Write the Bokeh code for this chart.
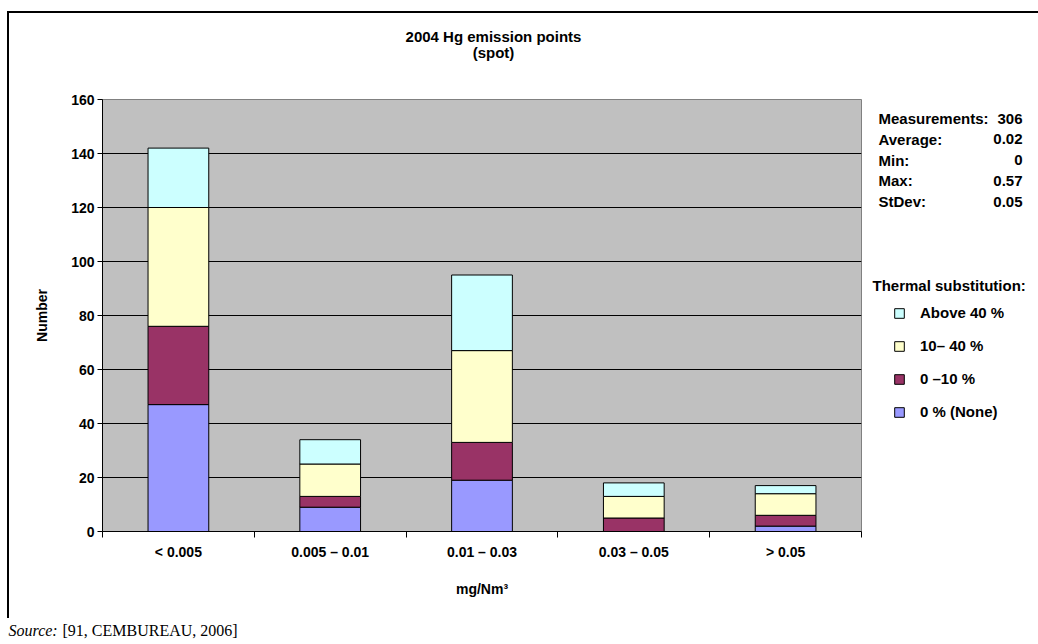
from bokeh.plotting import figure
from bokeh.layouts import row, column
from bokeh.models import (Range1d, LinearAxis, FixedTicker,
                          Label, Legend, LegendItem, ColumnDataSource, Grid)
from bokeh.embed import file_html
from bokeh.resources import INLINE

# ---------------- data ----------------
categories = ["< 0.005", "0.005 – 0.01", "0.01 – 0.03", "0.03 – 0.05", "> 0.05"]
none_0 = [47, 9, 19, 0, 2]          # 0 % (None)
upto_10 = [29, 4, 14, 5, 4]         # 0 – 10 %
from_10_to_40 = [44, 12, 34, 8, 8]  # 10 – 40 %
above_40 = [22, 9, 28, 5, 3]        # Above 40 %
series_keys = ["none_0", "upto_10", "from_10_to_40", "above_40"]
series_names = ["0 % (None)", "0 –10 %", "10– 40 %", "Above 40 %"]
series_colors = ["#9999FF", "#993366", "#FFFFCC", "#CCFFFF"]
y_ticks = [0, 20, 40, 60, 80, 100, 120, 140, 160]
stat_names = ["Measurements:", "Average:", "Min:", "Max:", "StDev:"]
stat_values = ["306", "0.02", "0", "0.57", "0.05"]
title_lines = ["2004 Hg emission points", "(spot)"]

SANS = "Liberation Sans"
SERIF = "Liberation Serif"

# ---------------- layout (page pixels) ----------------
W, H = 1038, 644
LEFT_W = 862            # width of the left column (title / chart / source)
SIDE_W = W - LEFT_W     # stats + legend column
TITLE_H = 89
MAIN_H = 512
SRC_H = H - TITLE_H - MAIN_H
ML, MT, MB = 102, 10, 70
MR = LEFT_W - ML - 759


def no_align(f):
    try:
        f.frame_align = False
    except Exception:
        pass


def text_canvas(w, h):
    """A blank figure whose frame is its whole canvas; data units = local pixels."""
    f = figure(width=w, height=h, x_range=Range1d(0, w), y_range=Range1d(h, 0),
               x_axis_location=None, y_axis_location=None, toolbar_location=None,
               output_backend="svg", min_border=0, min_border_left=0, min_border_right=0,
               min_border_top=0, min_border_bottom=0)
    f.center = []
    f.outline_line_color = None
    f.background_fill_color = None
    f.border_fill_color = None
    no_align(f)
    return f


def add_text(f, x, y, text, size="15px", align="left", font=SANS, style="bold"):
    f.add_layout(Label(x=x, y=y, text=text, text_font=font, text_font_style=style,
                       text_font_size=size, text_color="black", text_align=align,
                       text_baseline="middle"))


# ---------------- main chart ----------------
n = len(categories)
centers = [i + 0.5 for i in range(n)]      # category slot centres
bounds = list(range(n + 1))                # category slot boundaries

p = figure(width=LEFT_W, height=MAIN_H, x_range=Range1d(0, n), y_range=Range1d(0, 160),
           x_axis_location=None, y_axis_location=None, toolbar_location=None,
           output_backend="svg", min_border_left=ML, min_border_right=MR,
           min_border_top=MT, min_border_bottom=MB)
p.center = []
p.background_fill_color = "#C0C0C0"
p.border_fill_color = None
p.outline_line_color = "#808080"
p.outline_line_width = 1
no_align(p)

p.add_layout(Grid(dimension=1, ticker=FixedTicker(ticks=[t for t in y_ticks if t < 160]),
                  grid_line_color="black", grid_line_width=1))

source = ColumnDataSource(dict(x=centers, cat=categories, none_0=none_0, upto_10=upto_10,
                               from_10_to_40=from_10_to_40, above_40=above_40))
renderers = p.vbar_stack(series_keys, x="x", width=0.4, fill_color=series_colors,
                         line_color="black", line_width=1, source=source)

yaxis = LinearAxis(ticker=FixedTicker(ticks=y_ticks), axis_line_color="black",
                   axis_line_width=1, major_tick_out=5, major_tick_in=0,
                   major_tick_line_color="black", minor_tick_line_color=None,
                   major_label_text_font=SANS, major_label_text_font_style="bold",
                   major_label_text_font_size="14px", major_label_text_color="black",
                   major_label_standoff=3,
                   axis_label="Number", axis_label_text_font=SANS,
                   axis_label_text_font_style="bold", axis_label_text_font_size="14px",
                   axis_label_text_color="black", axis_label_standoff=18)
p.add_layout(yaxis, "left")

tick_axis = LinearAxis(ticker=FixedTicker(ticks=bounds),
                       axis_line_color="black", major_tick_out=6, major_tick_in=0,
                       major_tick_line_color="black", minor_tick_line_color=None,
                       major_label_overrides={b: "" for b in bounds},
                       major_label_text_font_size="0px", major_label_standoff=0)
p.add_layout(tick_axis, "below")

cat_axis = LinearAxis(ticker=FixedTicker(ticks=centers),
                      major_label_overrides={c: lab for c, lab in zip(centers, categories)},
                      axis_line_color=None, major_tick_line_color=None,
                      minor_tick_line_color=None,
                      major_label_text_font=SANS, major_label_text_font_style="bold",
                      major_label_text_font_size="14px", major_label_text_color="black",
                      major_label_standoff=0,
                      axis_label="mg/Nm³", axis_label_text_font=SANS,
                      axis_label_text_font_style="bold", axis_label_text_font_size="14px",
                      axis_label_text_color="black", axis_label_standoff=18)
p.add_layout(cat_axis, "below")

# ---------------- title ----------------
title_fig = text_canvas(LEFT_W, TITLE_H)
for i, t in enumerate(title_lines):
    add_text(title_fig, 493, 36 + 16 * i, t, size="15px", align="center")

# ---------------- source note ----------------
src_fig = text_canvas(LEFT_W, SRC_H)
add_text(src_fig, 8, 630 - TITLE_H - MAIN_H, "Source:", size="16px", font=SERIF,
         style="italic")
add_text(src_fig, 62, 630 - TITLE_H - MAIN_H, "[91, CEMBUREAU, 2006]", size="16px",
         font=SERIF, style="normal")

# ---------------- statistics + legend ----------------
side = text_canvas(SIDE_W, H)
for i, (nm, v) in enumerate(zip(stat_names, stat_values)):
    add_text(side, 878 - LEFT_W, 118 + 20.8 * i, nm)
    add_text(side, 1022 - LEFT_W, 118 + 20.8 * i, v, align="right")
add_text(side, 872 - LEFT_W, 285, "Thermal substitution:")

nan = float("nan")
swatches = [side.vbar(x=[nan], top=[nan], width=1, fill_color=c, line_color="black")
            for c in series_colors]
legend = Legend(items=[LegendItem(label=series_names[k], renderers=[swatches[k]])
                       for k in reversed(range(len(series_keys)))],
                location=(893 - LEFT_W, H - 420), orientation="vertical",
                label_text_font=SANS, label_text_font_style="bold",
                label_text_font_size="15px", label_text_color="black",
                glyph_width=12, glyph_height=12, label_standoff=15, label_height=17,
                spacing=16, padding=0, margin=0, border_line_color=None,
                background_fill_alpha=0)
side.add_layout(legend)

layout = row(column(title_fig, column(p), src_fig), side)
# outer frame rules (top and left), drawn behind the transparent canvases
layout.styles = {
    "background-color": "white",
    "background-image": "linear-gradient(#000, #000), linear-gradient(#000, #000)",
    "background-size": "2px 607px, 1031px 2px",
    "background-position": "7px 11px, 7px 11px",
    "background-repeat": "no-repeat",
}

open("out.html", "w").write(file_html(layout, INLINE))
